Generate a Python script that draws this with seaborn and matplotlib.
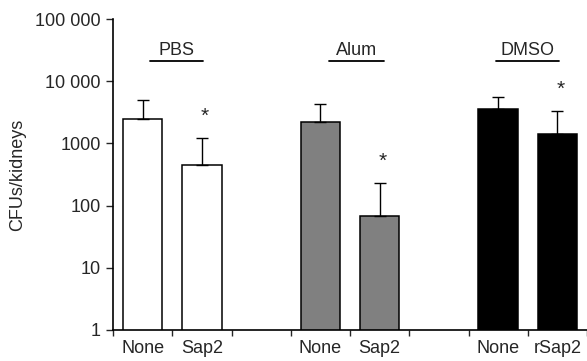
import matplotlib
matplotlib.use("Agg")
import matplotlib.pyplot as plt
import seaborn as sns
import pandas as pd
import numpy as np

# Data
slots = ["PBS_None", "PBS_Sap2", "gap1", "Alum_None", "Alum_Sap2", "gap2", "DMSO_None", "DMSO_rSap2"]
tick_labels = ["None", "Sap2", "", "None", "Sap2", "", "None", "rSap2"]
categories = ["PBS_None", "PBS_Sap2", "Alum_None", "Alum_Sap2", "DMSO_None", "DMSO_rSap2"]
means = [2500, 450, 2200, 67, 3550, 1420]
err_top = [5000, 1230, 4300, 230, 5500, 3350]
colors = ["white", "white", "#808080", "#808080", "black", "black"]
groups = ["PBS", "Alum", "DMSO"]
group_pos = [0.57, 3.61, 6.49]
group_line_w = [0.9, 0.93, 1.06]
signif = [False, True, False, True, False, True]

sns.set_style("white")
plt.rcParams["font.family"] = ["Liberation Sans", "DejaVu Sans"]
FS = 13

df = pd.DataFrame({"cat": categories, "val": means})

fig = plt.figure(figsize=(5.87, 3.61), dpi=100)
ax = fig.add_axes([113 / 587, 1 - 330 / 361, 1 - 113 / 587, (330 - 19) / 361])

sns.barplot(data=df, x="cat", y="val", hue="cat", order=slots, hue_order=categories,
            palette=dict(zip(categories, colors)), edgecolor="black", linewidth=1.1,
            width=0.67, legend=False, ax=ax, log_scale=(False, True))

pos = [slots.index(c) for c in categories]
lower = np.zeros(len(means))
upper = np.array(err_top) - np.array(means)
ax.errorbar(pos, means, yerr=[lower, upper], fmt="none", ecolor="black",
            elinewidth=1.0, capsize=4.5, capthick=1.0, zorder=1)

ax.set_yscale("log")
ax.set_ylim(1, 100000)
ax.set_xlim(-0.5, 7.5)
yt = [1, 10, 100, 1000, 10000, 100000]
ax.set_yticks(yt)
ax.set_yticklabels(["1", "10", "100", "1000", "10 000", "100 000"], fontsize=FS)
ax.yaxis.set_minor_locator(matplotlib.ticker.NullLocator())
ax.tick_params(axis="y", which="major", direction="out", length=5, width=1, left=True, pad=4)

ax.set_xticks(np.arange(-0.5, 8.0, 1.0))
ax.set_xticklabels([])
ax.set_xticks(np.arange(0, 8), minor=True)
ax.set_xticklabels(tick_labels, minor=True, fontsize=FS)
ax.tick_params(axis="x", which="major", direction="out", length=4, width=1, bottom=True)
ax.tick_params(axis="x", which="minor", length=0, pad=7)
ax.set_xlabel("")
ax.set_ylabel("CFUs/kidneys", fontsize=FS, labelpad=6)

for s in ["top", "right"]:
    ax.spines[s].set_visible(False)
for s in ["left", "bottom"]:
    ax.spines[s].set_color("black")
    ax.spines[s].set_linewidth(1.2)

# significance asterisks
for p, s, e in zip(pos, signif, err_top):
    if s:
        ax.text(p + 0.05, e * 2.2, "*", ha="center", va="center", fontsize=FS + 2)

# group labels with underline
for g, gp, w in zip(groups, group_pos, group_line_w):
    ax.text(gp, 23000, g, ha="center", va="bottom", fontsize=FS)
    ax.plot([gp - w / 2, gp + w / 2], [21000, 21000], color="black", lw=1.3, clip_on=False)

fig.savefig("out.png", dpi=100)
